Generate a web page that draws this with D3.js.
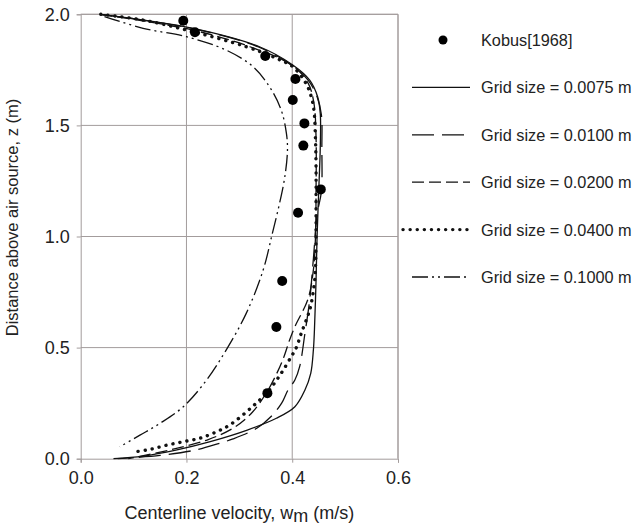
<!DOCTYPE html>
<html><head><meta charset="utf-8">
<script src="https://cdn.jsdelivr.net/npm/d3@7"></script>
<style>body{margin:0;background:#fff;} text{font-family:"Liberation Sans",Arial,sans-serif;fill:#222;}</style>
</head><body><svg id="c" width="637" height="530"></svg>
<script>
// Kobus [1968] measurements: [velocity, z]
const kobus = [[0.194,1.971],[0.216,1.919],[0.349,1.812],[0.406,1.709],[0.401,1.614],[0.423,1.509],[0.421,1.409],[0.454,1.212],[0.411,1.107],[0.381,0.800],[0.370,0.593],[0.353,0.295]];
const grid0075 = [[0.037,2.0],[0.2125,1.937],[0.338,1.854],[0.401,1.772],[0.433,1.704],[0.448,1.629],[0.453,1.554],[0.453,1.4],[0.450,1.2],[0.447,1.0],[0.445,0.8],[0.442,0.58],[0.440,0.49],[0.435,0.384],[0.424,0.309],[0.405,0.234],[0.37,0.182],[0.315,0.129],[0.245,0.077],[0.18,0.039],[0.118,0.012],[0.062,0.0]];
const grid0100 = [[0.037,2.0],[0.21,1.937],[0.335,1.854],[0.398,1.772],[0.43,1.704],[0.447,1.629],[0.455,1.55],[0.456,1.4],[0.455,1.2],[0.447,1.1],[0.44,0.9],[0.433,0.714],[0.424,0.564],[0.414,0.414],[0.405,0.354],[0.392,0.309],[0.38,0.25],[0.36,0.19],[0.333,0.137],[0.288,0.089],[0.263,0.07],[0.219,0.04],[0.15,0.015],[0.07,0.0]];
const grid0200 = [[0.037,2.0],[0.21,1.93],[0.32,1.854],[0.40,1.77],[0.43,1.69],[0.441,1.6],[0.445,1.45],[0.445,1.2],[0.444,1.0],[0.44,0.85],[0.43,0.72],[0.405,0.594],[0.395,0.534],[0.383,0.45],[0.37,0.38],[0.352,0.3],[0.325,0.21],[0.29,0.14],[0.24,0.085],[0.17,0.04],[0.09,0.0]];
const grid0400 = [[0.038,2.0],[0.118,1.974],[0.212,1.922],[0.313,1.854],[0.370,1.802],[0.401,1.764],[0.426,1.689],[0.436,1.629],[0.441,1.57],[0.444,1.434],[0.445,1.314],[0.445,1.134],[0.445,1.0],[0.443,0.819],[0.436,0.699],[0.431,0.654],[0.417,0.564],[0.407,0.496],[0.398,0.459],[0.379,0.384],[0.354,0.302],[0.325,0.235],[0.282,0.152],[0.251,0.115],[0.225,0.092],[0.195,0.077],[0.163,0.061],[0.131,0.042],[0.103,0.031]];
const grid1000 = [[0.045,1.99],[0.118,1.937],[0.200,1.899],[0.275,1.839],[0.326,1.764],[0.357,1.674],[0.379,1.570],[0.389,1.464],[0.391,1.389],[0.386,1.269],[0.376,1.149],[0.363,1.02],[0.345,0.849],[0.313,0.654],[0.275,0.489],[0.238,0.354],[0.194,0.234],[0.150,0.159],[0.112,0.106],[0.074,0.054]];
const xTicks = [0.0,0.2,0.4,0.6];
const yTicks = [0.0,0.5,1.0,1.5,2.0];
const legendLabels = ["Kobus[1968]","Grid size = 0.0075 m","Grid size = 0.0100 m","Grid size = 0.0200 m","Grid size = 0.0400 m","Grid size = 0.1000 m"];

const svg = d3.select("#c");
const L=80.7, R=398, T=14.3, B=458.7;
const x = d3.scaleLinear().domain([0,0.6]).range([L,R]);
const y = d3.scaleLinear().domain([0,2]).range([B,T]);
const gc = "#a39c9c";

// gridlines
svg.append("g").selectAll("line").data(xTicks.slice(1)).join("line")
  .attr("x1",d=>x(d)).attr("x2",d=>x(d)).attr("y1",T).attr("y2",B).attr("stroke",gc).attr("stroke-width",1);
svg.append("g").selectAll("line").data(yTicks.slice(1)).join("line")
  .attr("y1",d=>y(d)).attr("y2",d=>y(d)).attr("x1",L).attr("x2",R).attr("stroke",gc).attr("stroke-width",1);

// axes
const xa = svg.append("g").attr("transform",`translate(0,${B})`).call(d3.axisBottom(x).tickValues(xTicks).tickFormat(d3.format(".1f")).tickSizeOuter(0).tickSize(4).tickPadding(9));
const ya = svg.append("g").attr("transform",`translate(${L},0)`).call(d3.axisLeft(y).tickValues(yTicks).tickFormat(d3.format(".1f")).tickSizeOuter(0).tickSize(4).tickPadding(7));
[xa,ya].forEach(a=>{a.select(".domain").attr("stroke",gc);a.selectAll(".tick line").attr("stroke",gc);a.selectAll("text").style("font-size","18px").attr("fill","#222");});
svg.append("line").attr("x1",L).attr("x2",R).attr("y1",T).attr("y2",T).attr("stroke",gc);
svg.append("line").attr("x1",R).attr("x2",R).attr("y1",T).attr("y2",B).attr("stroke",gc);

const styles = [
  {data:grid0075, dash:null, w:1.3},
  {data:grid0100, dash:"22,8", w:1.3},
  {data:grid0200, dash:"12,5", w:1.3},
  {data:grid0400, dash:"0.1,7", w:3.4, cap:"round"},
  {data:grid1000, dash:"16,4,2,4,2,4", w:1.3}
];
const line = d3.line().x(d=>x(d[0])).y(d=>y(d[1])).curve(d3.curveCatmullRom.alpha(0.5));
styles.forEach(s=>{
  svg.append("path").datum(s.data).attr("d",line).attr("fill","none").attr("stroke","#111")
    .attr("stroke-width",s.w).attr("stroke-dasharray",s.dash).attr("stroke-linecap",s.cap||"butt");
});
svg.append("g").selectAll("circle").data(kobus).join("circle")
  .attr("cx",d=>x(d[0])).attr("cy",d=>y(d[1])).attr("r",5).attr("fill","#000");

// legend
const ly0=40, ldy=47.4;
const lg = svg.append("g");
legendLabels.forEach((t,i)=>{
  const yy = ly0+i*ldy;
  lg.append("text").attr("x",481).attr("y",yy+6).style("font-size","16.3px").text(t);
  if(i===0){ lg.append("circle").attr("cx",443).attr("cy",yy).attr("r",4.5).attr("fill","#000"); }
  else {
    const s=styles[i-1];
    lg.append("line").attr("x1",s.cap?403:412).attr("x2",470).attr("y1",yy).attr("y2",yy)
      .attr("stroke","#111").attr("stroke-width",s.w).attr("stroke-dasharray",s.dash).attr("stroke-linecap",s.cap||"butt");
  }
});

// axis titles
const xt = svg.append("text").attr("x",(L+R)/2).attr("y",519).attr("text-anchor","middle").style("font-size","18px");
xt.append("tspan").text("Centerline velocity, w");
xt.append("tspan").attr("dy",3).text("m");
xt.append("tspan").attr("dy",-3).text(" (m/s)");
svg.append("text").attr("transform",`translate(18,${(T+B)/2-19}) rotate(-90)`).attr("text-anchor","middle").style("font-size","16.5px")
  .text("Distance above air source, z (m)");
</script></body></html>
